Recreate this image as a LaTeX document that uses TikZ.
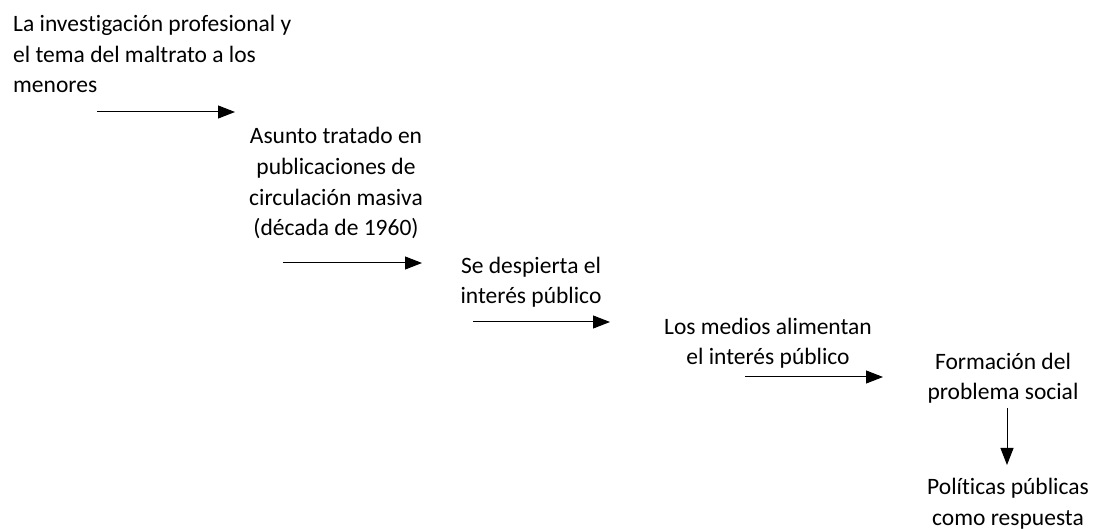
\documentclass[tikz,border=0pt]{standalone}
\usepackage{fontspec}
\setmainfont{Carlito}[Ligatures={NoCommon}]
\usetikzlibrary{arrows.meta}
\tikzset{
  lbl/.style={inner sep=0pt, anchor=base, align=center, font=\fontsize{23.5}{30.8}\selectfont},
  lblleft/.style={lbl, align=left, anchor=base west},
  arr/.style={line width=1pt, -{Triangle[length=17pt,width=13pt]}}
}
\begin{document}
\begin{tikzpicture}[x=1pt,y=-1pt]
\useasboundingbox (0,0) rectangle (1096,529);
% base anchor = baseline of the last line
\node[lblleft] (n1) at (13,93) {La investigación profesional y\\el tema del maltrato a los\\menores};
\node[lbl] (n2) at (336,236) {Asunto tratado en\\publicaciones de\\circulación masiva\\(década de 1960)};
\node[lbl] (n3) at (531,304) {Se despierta el\\interés público};
\node[lbl] (n4) at (768,365) {Los medios alimentan\\el interés público};
\node[lbl] (n5) at (1003,400) {Formación del\\problema social};
\node[lbl] (n6) at (1008,525) {Políticas públicas\\como respuesta};
\coordinate (a1s) at (97,112);  \coordinate (a1e) at (235,112);
\coordinate (a2s) at (283,263); \coordinate (a2e) at (422,263);
\coordinate (a3s) at (473,322); \coordinate (a3e) at (610,322);
\coordinate (a4s) at (745,377); \coordinate (a4e) at (883,377);
\coordinate (a5s) at (1007,408); \coordinate (a5e) at (1007,465);
\draw[arr] (a1s) -- (a1e);
\draw[arr] (a2s) -- (a2e);
\draw[arr] (a3s) -- (a3e);
\draw[arr] (a4s) -- (a4e);
\draw[arr] (a5s) -- (a5e);
\end{tikzpicture}
\end{document}
